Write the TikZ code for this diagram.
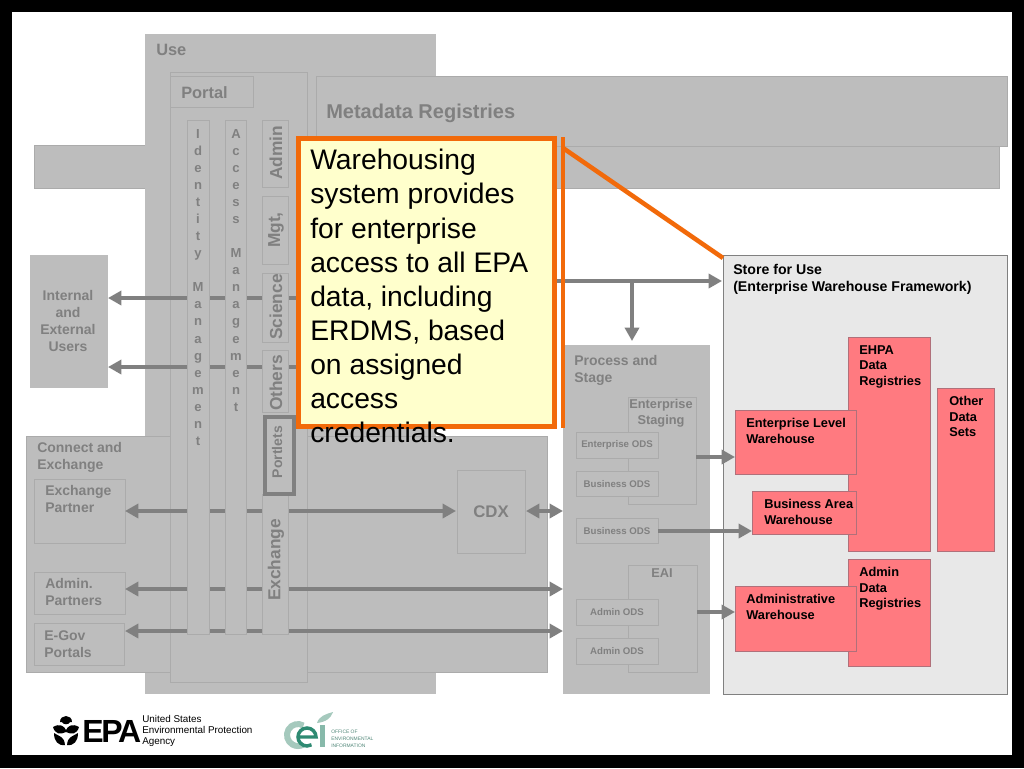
\documentclass[tikz,border=0pt]{standalone}
\usepackage{fontspec}
\setmainfont{Liberation Sans}
\usetikzlibrary{arrows.meta,calc}
\definecolor{pane}{HTML}{BDBDBD}
\definecolor{edge}{HTML}{ABABAB}
\definecolor{ink}{HTML}{808080}
\definecolor{rose}{HTML}{FF7A80}
\definecolor{roseedge}{HTML}{B0707A}
\definecolor{store}{HTML}{E8E8E8}
\definecolor{orangeline}{HTML}{F26A0A}
\definecolor{note}{HTML}{FFFFCC}
\definecolor{oeilight}{HTML}{A5C9BD}
\definecolor{oeidark}{HTML}{2E8A72}
\newcommand{\fz}[2]{\fontsize{#1}{#2}\selectfont}
\newcommand{\bx}[6]{\node[#6,minimum width={(#4-#2)*0.75-0.2},minimum height={(#5-#3)*0.75-0.2}] (#1) at ({(#2+#4)/2},{(#3+#5)/2}) {};}
\tikzset{
 x=0.75pt,y=-0.75pt,
 pane/.style={draw=edge,fill=pane,line width=0.4pt,inner sep=0,outer sep=0},
 plainpane/.style={draw=none,fill=pane,inner sep=0,outer sep=0},
 redbox/.style={draw=roseedge,fill=rose,line width=0.4pt,inner sep=0,outer sep=0},
 storebox/.style={draw=gray,fill=store,line width=0.5pt,inner sep=0,outer sep=0},
 gt/.style={text=ink,font=\bfseries\fz{10.5}{12.75},align=left,anchor=north west,inner sep=0},
 gtc/.style={text=ink,font=\bfseries\fz{10.5}{12.75},align=center,inner sep=0},
 ods/.style={text=ink,font=\bfseries\fz{7.25}{8},inner sep=0},
 rt/.style={text=black,font=\bfseries\fz{9.6}{11.6},align=left,anchor=north west,inner sep=0},
 vert/.style={text=ink,font=\bfseries\fz{13}{13},rotate=90,inner sep=0},
 stack/.style={text=ink,font=\bfseries\fz{9.8}{12.8},align=center,anchor=north,inner sep=0},
 flow/.style={draw=ink,line width=3.4pt},
 both/.style={flow,{Triangle[length=10pt,width=10.5pt]}-{Triangle[length=10pt,width=10.5pt]}},
 fwd/.style={flow,-{Triangle[length=10pt,width=10.5pt]}},
}
\begin{document}
\begin{tikzpicture}
\useasboundingbox (0,0) rectangle (1024,768);
\fill[black] (0,0) rectangle (1024,768);
\fill[white] (12,12) rectangle (1012,755);
% back panes
\bx{bar}{34}{145}{999}{188}{pane}
\bx{use}{145}{34}{436}{694}{plainpane}
\bx{meta}{316}{76}{1007}{146}{pane}
\bx{users}{30}{255}{108}{388}{plainpane}
\bx{connect}{26}{436}{547}{672}{pane}
\bx{portal}{170}{72}{307}{682}{pane}
\bx{portalt}{170}{76}{253}{107}{pane}
\bx{process}{563}{345}{710}{694}{plainpane}
\bx{staging}{628}{397}{696}{504}{pane}
\bx{eai}{628}{565}{697}{672}{pane}
\bx{partner}{34}{479}{125}{543}{pane}
\bx{adminp}{34}{572}{125}{614}{pane}
\bx{egov}{34}{623}{124}{665}{pane}
\bx{cdx}{457}{470}{525}{553}{pane}
\bx{odsa}{576}{432}{658}{458}{pane}
\bx{odsb}{576}{471}{658}{496}{pane}
\bx{odsc}{576}{518}{658}{543}{pane}
\bx{odsd}{576}{599}{658}{625}{pane}
\bx{odse}{576}{638}{658}{664}{pane}
% store
\bx{storeb}{723}{255}{1007}{694}{storebox}
\bx{ehpa}{848}{337}{930}{551}{redbox}
\bx{other}{937}{388}{994}{551}{redbox}
\bx{admreg}{848}{559}{930}{666}{redbox}
\bx{entw}{735}{410}{856}{474}{redbox}
\bx{busw}{752}{491}{856}{534}{redbox}
\bx{admw}{735}{586}{856}{651}{redbox}
% connector end points
\coordinate (u1) at (108,298); \coordinate (c1) at (311,298);
\coordinate (u2) at (108,367); \coordinate (c2) at (311,367);
\coordinate (n3) at (540,281); \coordinate (s3) at (722,281);
\coordinate (j3) at (632,281); \coordinate (p3) at (632,341);
\coordinate (a1) at (125,589); \coordinate (a2) at (563,589);
\coordinate (e1) at (125,631); \coordinate (e2) at (563,631);
\coordinate (x1) at (125,511); \coordinate (x2) at (456,511);
\coordinate (d1) at (526,511); \coordinate (d2) at (563,511);
\coordinate (st) at (696,457); \coordinate (en) at (735,457);
\coordinate (bo) at (658,531); \coordinate (bu) at (752,531);
\coordinate (ea) at (697,612); \coordinate (am) at (735,612);
% connectors
\draw[both] (u1) -- (c1);
\draw[both] (u2) -- (c2);
\draw[fwd] (n3) -- (s3);
\draw[fwd] (j3) -- (p3);
\draw[both] (x1) -- (x2);
\draw[both] (d1) -- (d2);
\draw[both] (a1) -- (a2);
\draw[both] (e1) -- (e2);
\draw[fwd] (st) -- (en);
\draw[fwd] (bo) -- (bu);
\draw[fwd] (ea) -- (am);
% portal columns
\bx{ident}{187}{120}{209}{634}{pane}
\bx{access}{225}{120}{246}{634}{pane}
\bx{admin}{262}{120}{288}{187}{pane}
\bx{mgt}{262}{196}{288}{264}{pane}
\bx{science}{262}{273}{288}{342}{pane}
\bx{others}{262}{350}{288}{412}{pane}
\bx{exch}{262}{494}{288}{634}{pane}
\node[draw=ink,fill=pane,line width=3pt,inner sep=0,minimum width={29*0.75},minimum height={77*0.75}] (portlets) at (279,455) {};
% grey labels
\node[gt,font=\bfseries\fz{12.3}{14}] (tuse) at (156,44) {Use};
\node[gt,font=\bfseries\fz{12.3}{14}] (tportal) at (181,86) {Portal};
\node[gt,font=\bfseries\fz{15}{17}] (tmeta) at (326,104) {Metadata Registries};
\node[gtc] (tusers) at (68,321) {Internal\\and\\External\\Users};
\node[gt] (tconn) at (37,442) {Connect and\\Exchange};
\node[gt] (tpart) at (45,485) {Exchange\\Partner};
\node[gt] (tadmp) at (45,578) {Admin.\\Partners};
\node[gt] (tegov) at (44,630) {E-Gov\\Portals};
\node[gtc,font=\bfseries\fz{12.6}{14}] (tcdx) at (491,512) {CDX};
\node[gt] (tproc) at (574,355) {Process and\\Stage};
\node[gtc,font=\bfseries\fz{9.6}{12}] (tstag) at (661,413) {Enterprise\\Staging};
\node[gtc,font=\bfseries\fz{9.6}{12}] (teai) at (662,573) {EAI};
\node[ods] (l1) at (617,445) {Enterprise ODS};
\node[ods] (l2) at (617,484) {Business ODS};
\node[ods] (l3) at (617,531) {Business ODS};
\node[ods] (l4) at (617,612) {Admin ODS};
\node[ods] (l5) at (617,651) {Admin ODS};
\node[stack] (tid) at (198,129) {I\\d\\e\\n\\t\\i\\t\\y\\ \\M\\a\\n\\a\\g\\e\\m\\e\\n\\t};
\node[stack] (tac) at (236,129) {A\\c\\c\\e\\s\\s\\ \\M\\a\\n\\a\\g\\e\\m\\e\\n\\t};
\node[vert] (vadm) at (276,153) {Admin};
\node[vert] (vmgt) at (276,230) {Mgt,};
\node[vert] (vsci) at (276,307) {Science};
\node[vert] (voth) at (276,383) {Others};
\node[vert,font=\bfseries\fz{10.5}{11}] (vpor) at (277,452) {Portlets};
\node[vert] (vexc) at (276,560) {Exchange};
% store labels
\node[rt,font=\bfseries\fz{10.6}{12.75}] (tstore) at (733,264) {Store for Use\\(Enterprise Warehouse Framework)};
\node[rt] (tehpa) at (859,345) {EHPA\\Data\\Registries};
\node[rt] (toth) at (949,396) {Other\\Data\\Sets};
\node[rt] (tadr) at (859,567) {Admin\\Data\\Registries};
\node[rt] (tent) at (746,418) {Enterprise Level\\Warehouse};
\node[rt] (tbus) at (764,499) {Business Area\\Warehouse};
\node[rt] (tadw) at (746,594) {Administrative\\Warehouse};
% callout
\coordinate (lead1) at (563,137); \coordinate (lead2) at (563,428);
\coordinate (lead3) at (563,148); \coordinate (lead4) at (723,258);
\node[draw=orangeline,fill=note,line width=3.4pt,inner sep=0,outer sep=0,minimum width={256*0.75},minimum height={288*0.75}] (call) at (426.5,282.5) {};
\draw[orangeline,line width=3.4pt] (lead1) -- (lead2);
\draw[orangeline,line width=3.4pt] (lead3) -- (lead4);
\node[inner sep=0,anchor=north west,align=left,font=\fz{21.2}{25.6},text=black] (calltext) at (310,149) {Warehousing\\system provides\\for enterprise\\access to all EPA\\data, including\\ERDMS, based\\on assigned\\access\\credentials.};
% EPA logo
\fill[black] (60,722) .. controls (60,714) and (72,714) .. (72,722) -- (70,722) .. controls (69,725) and (63,725) .. (62,722) -- cycle;
\fill[black] (53,727) .. controls (60,723) and (64,726) .. (66,730) .. controls (68,726) and (72,723) .. (79,727) .. controls (77,734) and (72,735) .. (66,732) .. controls (60,735) and (55,734) .. (53,727) -- cycle;
\fill[black] (54,733) .. controls (60,737) and (64,736) .. (65,745) .. controls (58,746) and (54,741) .. (54,733) -- cycle;
\fill[black] (78,733) .. controls (72,737) and (68,736) .. (67,745) .. controls (74,746) and (78,741) .. (78,733) -- cycle;
\node[inner sep=0,font=\bfseries\fz{24}{24},text=black,anchor=west] (epa) at (82,731) {\addfontfeature{LetterSpace=-7}EPA};
\node[inner sep=0,align=left,anchor=west,font=\fz{7.4}{8},text=black] (epat) at (142,731) {United States\\Environmental Protection\\Agency};
% OEI logo
\draw[oeilight,line width=4.5pt] (303.5,725.5) arc[start angle=-60,end angle=-300,radius=11];
\draw[oeidark,line width=2.6pt] (298,737) -- (316,737) arc[start angle=0,end angle=-300,radius=9];
\fill[oeilight] (317,723) .. controls (319,716) and (326,714) .. (333,712) .. controls (331,718) and (326,722) .. (317,723) -- cycle;
\fill[oeilight!75!oeidark] (320,725) rectangle (325,747);
\node[inner sep=0,align=left,anchor=west,font=\fz{3.7}{5.2},text=oeidark!60!gray] (oeit) at (331,739) {OFFICE OF\\ENVIRONMENTAL\\INFORMATION};
\end{tikzpicture}
\end{document}
